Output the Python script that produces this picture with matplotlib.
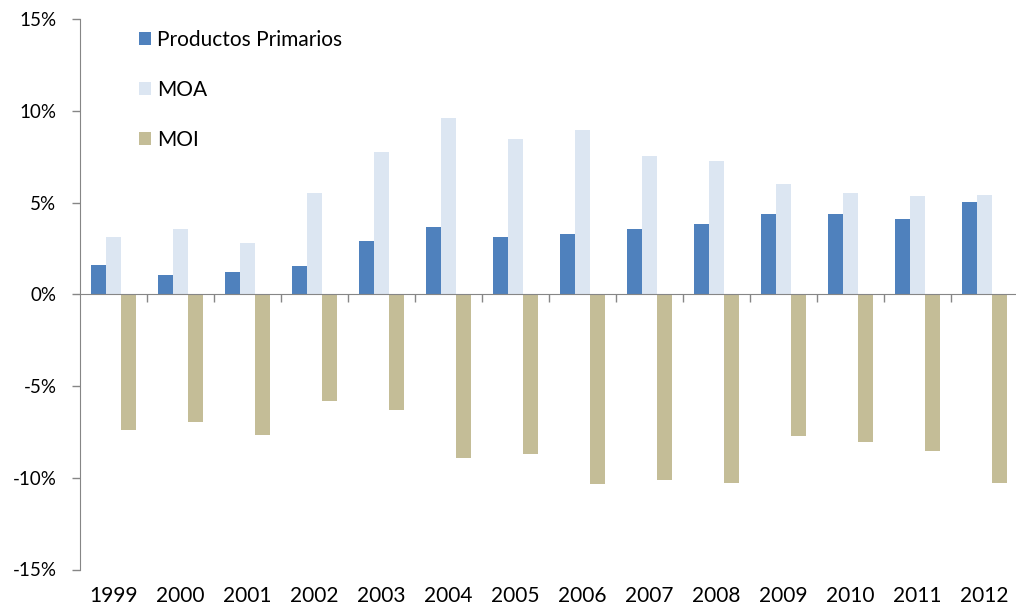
import numpy as np
import matplotlib.pyplot as plt
from matplotlib.ticker import FuncFormatter

plt.rcParams['font.family'] = ['Lato', 'DejaVu Sans']

# === datos (% de variación) ===
years = ["1999", "2000", "2001", "2002", "2003", "2004", "2005",
         "2006", "2007", "2008", "2009", "2010", "2011", "2012"]
primarios = [1.62, 1.05, 1.24, 1.53, 2.93, 3.65, 3.11,
             3.29, 3.58, 3.85, 4.41, 4.41, 4.12, 5.05]
moa = [3.11, 3.56, 2.82, 5.52, 7.76, 9.63, 8.50,
       8.97, 7.57, 7.30, 6.00, 5.52, 5.34, 5.43]
moi = [-7.41, -6.96, -7.68, -5.81, -6.28, -8.90, -8.72,
       -10.32, -10.10, -10.28, -7.70, -8.07, -8.52, -10.28]

fig = plt.figure(figsize=(10.16, 6.10), dpi=100)
ax = fig.add_axes([80 / 1016, 40.5 / 610, 938 / 1016, 550.2 / 610])

x = np.arange(len(years))
w = 0.224
ax.bar(x - w, primarios, w, color="#4F81BD", label="Productos Primarios")
ax.bar(x, moa, w, color="#DCE6F2", label="MOA")
ax.bar(x + w, moi, w, color="#C4BD97", label="MOI")

ax.set_xlim(-0.5, len(years) - 0.5)
ax.set_ylim(-15, 15)
ax.set_yticks(np.arange(-15, 16, 5))
ax.yaxis.set_major_formatter(FuncFormatter(lambda v, p: f"{v:.0f}%"))

# ejes
for s in ["top", "right"]:
    ax.spines[s].set_visible(False)
ax.spines["left"].set_color("#868686")
ax.spines["bottom"].set_color("#868686")
ax.spines["bottom"].set_position(("data", 0))
ax.spines["bottom"].set_zorder(3)
ax.tick_params(axis="y", colors="#868686", length=6, width=1, pad=11,
               labelsize=13.5, labelcolor="black")
ax.set_xticks(np.arange(0.5, len(years) - 0.5, 1))
ax.tick_params(axis="x", colors="#868686", length=6, width=1, labelbottom=False)

# etiquetas de años abajo (eje secundario en el borde inferior)
sec = ax.secondary_xaxis("bottom")
sec.spines["bottom"].set_visible(False)
sec.set_xticks(x)
sec.set_xticklabels(years)
sec.tick_params(length=0, pad=12, labelsize=15)

ax.legend(loc="upper left", bbox_to_anchor=(139 / 1016, 1 - 30 / 610),
          bbox_transform=fig.transFigure, frameon=False, fontsize=15,
          handlelength=0.58, handleheight=0.62, handletextpad=0.3,
          labelspacing=1.43, borderpad=0, borderaxespad=0)

plt.savefig("out.png", dpi=100)
